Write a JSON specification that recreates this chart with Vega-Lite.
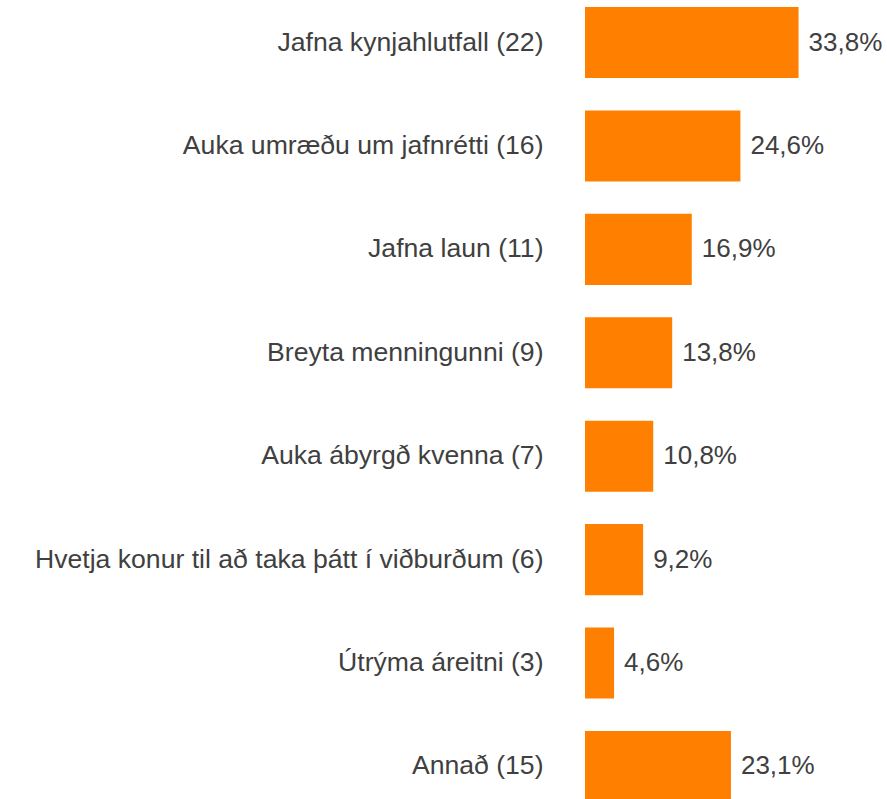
{
  "$schema": "https://vega.github.io/schema/vega-lite/v6.json",
  "autosize": {"type": "none"},
  "padding": {"top": 7, "left": 585, "right": 0, "bottom": 0},
  "width": 302,
  "height": 795,
  "background": "white",
  "config": {
    "view": {"stroke": null},
    "locale": {"number": {"decimal": ",", "thousands": ".", "grouping": [3], "currency": ["", " kr."]}},
    "font": "Liberation Sans"
  },
  "data": {
    "values": [
      {"label": "Jafna kynjahlutfall (22)", "share": 0.338},
      {"label": "Auka umræðu um jafnrétti (16)", "share": 0.246},
      {"label": "Jafna laun (11)", "share": 0.169},
      {"label": "Breyta menningunni (9)", "share": 0.138},
      {"label": "Auka ábyrgð kvenna (7)", "share": 0.108},
      {"label": "Hvetja konur til að taka þátt í viðburðum (6)", "share": 0.092},
      {"label": "Útrýma áreitni (3)", "share": 0.046},
      {"label": "Annað (15)", "share": 0.231}
    ]
  },
  "encoding": {
    "y": {
      "field": "label",
      "type": "nominal",
      "sort": null,
      "scale": {"paddingInner": 0.313, "paddingOuter": 0},
      "axis": {
        "title": null,
        "domain": false,
        "ticks": false,
        "labelFontSize": 26.6,
        "labelColor": "#404040",
        "labelPadding": 42,
        "labelLimit": 0,
        "labelFont": "Liberation Sans"
      }
    },
    "x": {
      "field": "share",
      "type": "quantitative",
      "scale": {"domain": [0, 0.478], "nice": false, "zero": true},
      "axis": null
    }
  },
  "layer": [
    {"mark": {"type": "bar", "color": "#FF8000"}},
    {
      "mark": {"type": "text", "align": "left", "baseline": "middle", "dx": 10, "fontSize": 26, "color": "#404040", "font": "Liberation Sans"},
      "encoding": {"text": {"field": "share", "type": "quantitative", "format": ".1%"}}
    }
  ]
}
